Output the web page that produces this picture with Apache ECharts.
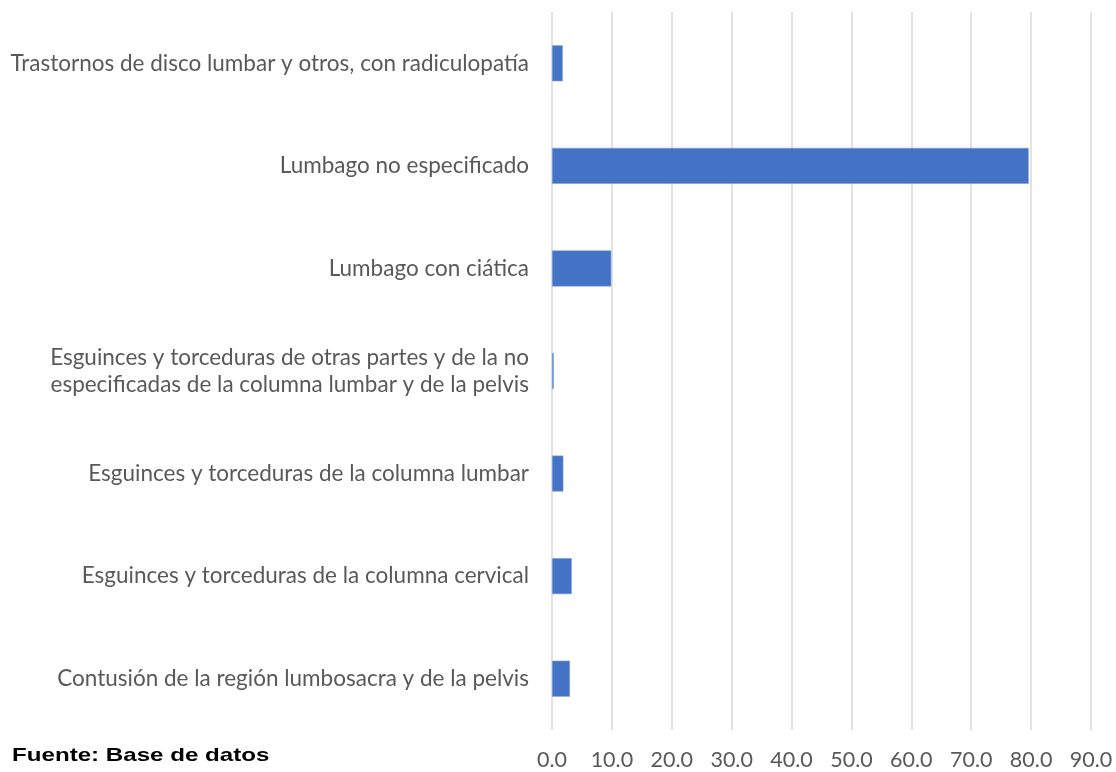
<!DOCTYPE html>
<html>
<head>
<meta charset="utf-8">
<script src="https://cdn.jsdelivr.net/npm/echarts@6/dist/echarts.min.js"></script>
<style>
  html, body { margin: 0; padding: 0; background: #fff; }
  #chart { width: 1116px; height: 772px; }
</style>
</head>
<body>
<div id="chart"></div>
<script>
// categories top to bottom, as in the picture
const categories = [
  'Trastornos de disco lumbar y otros, con radiculopatía',
  'Lumbago no especificado',
  'Lumbago con ciática',
  'Esguinces y torceduras de otras partes y de la no\nespecificadas de la columna lumbar y de la pelvis',
  'Esguinces y torceduras de la columna lumbar',
  'Esguinces y torceduras de la columna cervical',
  'Contusión de la región lumbosacra y de la pelvis',
];
const values = [1.8, 79.6, 9.9, 0.3, 1.9, 3.3, 3.0];
const sourceNote = 'Fuente: Base de datos';

const chart = echarts.init(document.getElementById('chart'));
chart.setOption({
  animation: false,
  grid: { left: 552, right: 25, top: 12, bottom: 42 },
  graphic: [{
    type: 'text',
    x: 12,
    y: 746,
    scaleX: 1.27,
    style: {
      text: sourceNote,
      font: 'bold 19px "Liberation Sans", Arial, sans-serif',
      fill: '#000',
    },
  }],
  xAxis: {
    type: 'value',
    min: 0,
    max: 90,
    interval: 10,
    axisLine: { show: false },
    axisTick: { show: false },
    axisLabel: {
      margin: 19,
      color: '#595959',
      fontFamily: 'Lato',
      fontSize: 21.5,
      formatter: (v) => v.toFixed(1),
    },
    splitLine: { lineStyle: { color: '#d9d9d9', width: 1.5 } },
  },
  yAxis: {
    type: 'category',
    inverse: true,
    data: categories,
    axisLine: { show: false },
    axisTick: { show: false },
    axisLabel: {
      margin: 23,
      color: '#595959',
      fontFamily: 'Lato',
      fontSize: 22.5,
      lineHeight: 27,
      align: 'right',
    },
  },
  series: [{
    type: 'bar',
    data: values,
    barWidth: 36,
    itemStyle: { color: '#4472C4', borderColor: '#7f9fd8', borderWidth: 0.6 },
  }],
});
</script>
</body>
</html>
